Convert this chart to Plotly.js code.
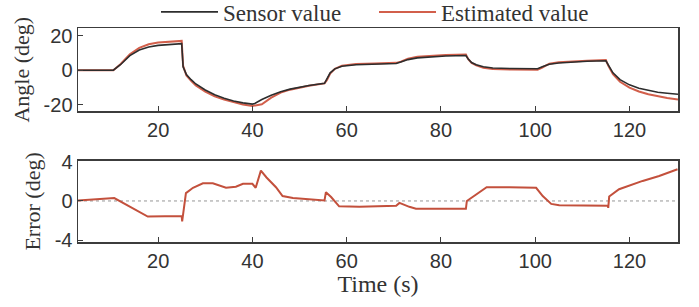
<!DOCTYPE html>
<html>
<head>
<meta charset="utf-8">
<script src="https://cdn.plot.ly/plotly-3.0.1.min.js"></script>
<style>html,body{margin:0;padding:0;background:#fff;}#chart{width:699px;height:307px;}</style>
</head>
<body>
<div id="chart"></div>
<script>
// Top panel: time (s) and angles (deg)
const timeTop = [3, 10, 10.5, 12, 14, 16, 18, 20, 22, 24, 25, 25.3, 26, 27, 28, 30, 32, 34, 36, 38, 40, 40.5, 41, 42, 44, 46, 48, 50, 52, 55.3, 55.8, 56.5, 57.5, 59, 62, 66, 70.5, 71.5, 73, 75, 78, 81, 85.3, 85.8, 86.5, 87.5, 89, 91, 95, 100.5, 101.5, 103, 105, 108, 111, 115, 115.5, 116.5, 118, 120, 122, 124, 126, 128, 130.3];
const sensorValue = [0, 0, 0, 3.2, 8.5, 11.8, 13.5, 14.5, 15.0, 15.3, 15.5, 2, -2.5, -5.5, -8, -11.5, -14.3, -16.3, -17.9, -19, -19.7, -19.4, -18.5, -17, -14.5, -12.5, -11, -9.8, -8.9, -7.6, -5, -1.5, 0.8, 2.3, 3.2, 3.6, 3.9, 4.8, 6.2, 7.2, 7.9, 8.3, 8.6, 6.5, 4.5, 3.2, 2.0, 1.3, 1.0, 0.9, 2.0, 3.5, 4.2, 4.8, 5.2, 5.5, 3, -1.5, -5.5, -8.5, -10.5, -11.8, -12.8, -13.4, -14.0];
const estimatedValue = [0, 0, 0, 3.5, 9.3, 13, 15.1, 16.1, 16.6, 16.9, 17.1, 2.5, -3.0, -6.2, -8.9, -12.5, -15.2, -17.1, -18.7, -20.0, -20.8, -20.6, -20.6, -19.8, -16.0, -13.0, -11.3, -10, -9.0, -7.65, -5.8, -1.9, 0.8, 2.7, 3.6, 4.0, 4.3, 5.0, 6.7, 7.8, 8.5, 8.9, 9.2, 6.4, 4.3, 2.8, 1.4, 0.7, 0.4, 0.3, 1.6, 3.8, 4.6, 5.2, 5.6, 5.9, 2.7, -2.3, -6.7, -10.1, -12.4, -14.0, -15.3, -16.2, -17.0];

// Bottom panel: error (deg)
const timeErr = [3, 10.7, 17.8, 25.0, 25.1, 25.9, 27.4, 29.5, 31.6, 34.4, 36.5, 38, 40, 40.7, 41.8, 43, 45, 46.4, 48.6, 52.1, 55.3, 55.6, 56.7, 58.4, 62.7, 70.5, 71.2, 73.3, 74.7, 80.4, 85.3, 85.5, 87.4, 89.7, 94.5, 100.2, 101.6, 103.4, 105.1, 115.4, 115.5, 115.7, 117.8, 120, 122.8, 126.3, 128, 130.2];
const errorValue = [0.05, 0.3, -1.6, -1.55, -2.1, 0.8, 1.35, 1.8, 1.8, 1.35, 1.45, 1.75, 1.75, 1.35, 3.1, 2.4, 1.4, 0.5, 0.3, 0.15, 0.05, 0.9, 0.4, -0.55, -0.6, -0.5, -0.2, -0.6, -0.8, -0.8, -0.8, 0, 0.6, 1.4, 1.4, 1.35, 0.5, -0.3, -0.45, -0.5, -0.7, 0.45, 1.2, 1.6, 2.05, 2.55, 2.85, 3.25];

const xTicks = [20, 40, 60, 80, 100, 120];
const angleTicks = [-20, 0, 20];
const angleTickText = ['-20', '0', '20'];
const errTicks = [-4, 0, 4];
const errTickText = ['-4', '0', '4'];

const serif = 'Liberation Serif, Times New Roman, serif';
const sans = 'Liberation Sans, Arial, sans-serif';
const red = 'rgb(210,95,75)';
const dark = 'rgb(45,45,45)';

const traces = [
  {x: timeTop, y: estimatedValue, type: 'scatter', mode: 'lines', name: 'Estimated value',
   line: {color: red, width: 2}, xaxis: 'x', yaxis: 'y', legendrank: 2},
  {x: timeTop, y: sensorValue, type: 'scatter', mode: 'lines', name: 'Sensor value',
   line: {color: dark, width: 1.6}, xaxis: 'x', yaxis: 'y', legendrank: 1},
  {x: timeErr, y: errorValue, type: 'scatter', mode: 'lines', name: 'Error',
   line: {color: 'rgb(195,80,60)', width: 2}, xaxis: 'x2', yaxis: 'y2', showlegend: false}
];

const axCommon = {
  showgrid: false, zeroline: false, showline: true, mirror: true,
  linecolor: 'rgb(60,60,60)', linewidth: 1.5,
  ticks: 'inside', ticklen: 5, tickcolor: 'rgb(60,60,60)', tickwidth: 1,
  tickfont: {family: sans, size: 20, color: '#333'}
};

const layout = {
  width: 699, height: 307,
  margin: {l: 78, r: 21, t: 28, b: 65, autoexpand: false},
  paper_bgcolor: '#fff', plot_bgcolor: '#fff',
  showlegend: true,
  legend: {orientation: 'h', x: 0.13, xanchor: 'left', y: 1.075, yanchor: 'middle',
    font: {family: serif, size: 23, color: '#333'}, itemwidth: 57, entrywidth: 146,
    traceorder: 'normal', bgcolor: 'rgba(0,0,0,0)'},
  xaxis: Object.assign({}, axCommon, {range: [3, 130.3], tickvals: xTicks, anchor: 'y', domain: [0, 1]}),
  yaxis: Object.assign({}, axCommon, {range: [-24, 24.6], tickvals: angleTicks, ticktext: angleTickText,
    domain: [0.61, 1], anchor: 'x',
    title: {text: 'Angle (deg)', font: {family: serif, size: 22, color: '#333'}, standoff: 8}}),
  xaxis2: Object.assign({}, axCommon, {range: [3, 130.3], tickvals: xTicks, anchor: 'y2', domain: [0, 1],
    title: {text: 'Time (s)', font: {family: serif, size: 24, color: '#333'}, standoff: 4}}),
  yaxis2: Object.assign({}, axCommon, {range: [-4.2, 4.1], tickvals: errTicks, ticktext: errTickText,
    domain: [0, 0.379], anchor: 'x2',
    title: {text: 'Error (deg)', font: {family: serif, size: 22, color: '#333'}, standoff: 8}}),
  shapes: [
    {type: 'line', xref: 'x2 domain', yref: 'y2', x0: 0, x1: 1, y0: 0, y1: 0,
     line: {color: 'rgb(150,150,150)', width: 1, dash: 'dot'}, layer: 'below'}
  ]
};

Plotly.newPlot('chart', traces, layout, {displayModeBar: false, staticPlot: true});
</script>
</body>
</html>
